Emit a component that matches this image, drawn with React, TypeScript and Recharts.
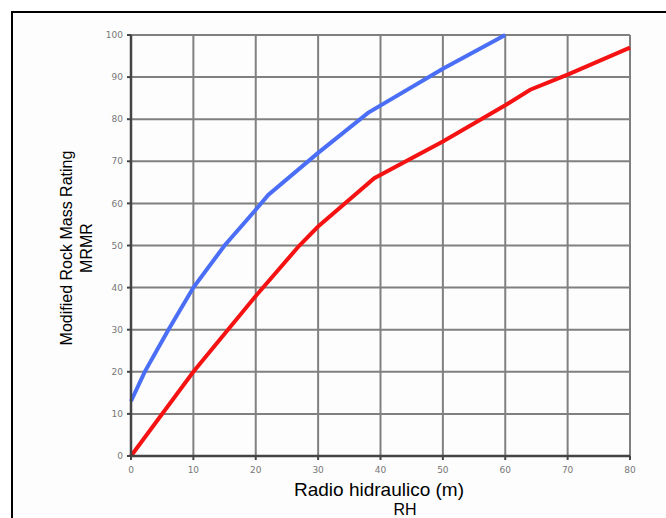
import React from "react";
import { LineChart, Line, XAxis, YAxis, CartesianGrid } from "recharts";

// upper curve (blue)
const BLUE_RH = [0, 2.2, 6, 10, 15, 20, 22, 30, 38, 50, 60];
const BLUE_MRMR = [13, 20, 30, 40, 50, 58.5, 62, 72, 81.5, 92, 100];

// lower curve (red)
const RED_RH = [0, 10, 20, 27, 30, 39, 50, 60, 64, 70, 80];
const RED_MRMR = [0, 20, 38, 50, 54.5, 66, 74.7, 83.3, 87, 90.6, 97];

const X_TICKS = [0, 10, 20, 30, 40, 50, 60, 70, 80];
const Y_TICKS = [0, 10, 20, 30, 40, 50, 60, 70, 80, 90, 100];

const blueData = BLUE_RH.map((rh, i) => ({ rh, mrmr: BLUE_MRMR[i] }));
const redData = RED_RH.map((rh, i) => ({ rh, mrmr: RED_MRMR[i] }));

const tickStyle = { fontSize: 9, fill: "#777", fontFamily: "DejaVu Sans" };

export default function App() {
  return (
    <div
      style={{
        position: "absolute",
        left: 0,
        top: 0,
        width: 666,
        height: 518,
        background: "#fff",
        overflow: "hidden",
        fontFamily: "Liberation Sans, Arial, sans-serif",
      }}
    >
      {/* outer frame */}
      <div
        style={{
          position: "absolute",
          left: 11,
          top: 11,
          width: 680,
          height: 540,
          border: "2px solid #000",
          background: "#fdfdfd",
        }}
      />
      <div style={{ position: "absolute", left: 0, top: 0 }}>
        <LineChart
          width={666}
          height={518}
          margin={{ top: 35, right: 36, bottom: 32, left: 91 }}
        >
          <CartesianGrid stroke="#808080" strokeWidth={2} />
          <XAxis
            type="number"
            dataKey="rh"
            domain={[0, 80]}
            ticks={X_TICKS}
            allowDuplicatedCategory={false}
            height={30}
            tick={tickStyle}
            tickSize={4}
            tickMargin={7}
            axisLine={{ stroke: "#444", strokeWidth: 2.5 }}
            tickLine={{ stroke: "#444", strokeWidth: 2 }}
          />
          <YAxis
            type="number"
            dataKey="mrmr"
            domain={[0, 100]}
            ticks={Y_TICKS}
            width={40}
            tick={tickStyle}
            tickSize={4}
            tickMargin={4}
            axisLine={{ stroke: "#444", strokeWidth: 2.5 }}
            tickLine={{ stroke: "#444", strokeWidth: 2 }}
          />
          <Line
            data={redData}
            dataKey="mrmr"
            type="linear"
            stroke="#f51212"
            strokeWidth={4}
            dot={false}
            isAnimationActive={false}
          />
          <Line
            data={blueData}
            dataKey="mrmr"
            type="linear"
            stroke="#4a6ef5"
            strokeWidth={4}
            dot={false}
            isAnimationActive={false}
          />
        </LineChart>
      </div>
      {/* axis titles */}
      <div
        style={{
          position: "absolute",
          left: 279,
          top: 481,
          width: 200,
          fontSize: 19,
          color: "#000",
          textAlign: "center",
          lineHeight: "18px",
        }}
      >
        Radio hidraulico (m)
      </div>
      <div
        style={{
          position: "absolute",
          left: 385,
          top: 502,
          width: 40,
          fontSize: 16,
          color: "#000",
          textAlign: "center",
          lineHeight: "15px",
        }}
      >
        RH
      </div>
      <div
        style={{
          position: "absolute",
          left: 77,
          top: 248,
          width: 260,
          transform: "translate(-50%, -50%) rotate(-90deg)",
          fontSize: 16,
          color: "#000",
          textAlign: "center",
          lineHeight: "20px",
        }}
      >
        Modified Rock Mass Rating
        <br />
        MRMR
      </div>
    </div>
  );
}
